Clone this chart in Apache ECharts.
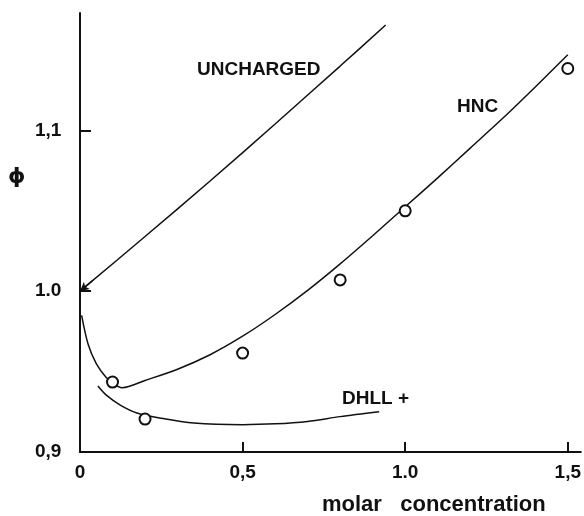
<!DOCTYPE html>
<html lang="en">
<head>
    <meta charset="UTF-8">
    <title>phi vs molar concentration</title>
    <script src="https://cdn.jsdelivr.net/npm/echarts@6/dist/echarts.min.js"></script>
    <style>
        body { margin: 0; background: #fff; }
        #main { width: 584px; height: 516px; }
    </style>
</head>
<body>
<div id="main"></div>
<script type="text/javascript">
    // data
    var unchargedX = [0, 0.2, 0.4, 0.6, 0.8, 0.94];
    var unchargedY = [1.000, 1.034, 1.0685, 1.104, 1.140, 1.1655];

    var hncX = [0.005, 0.025, 0.05, 0.08, 0.105, 0.13, 0.2, 0.3, 0.4, 0.5, 0.6, 0.7, 0.8, 0.9, 1.0, 1.1, 1.2, 1.3, 1.4, 1.5];
    var hncY = [0.985, 0.967, 0.955, 0.9465, 0.942, 0.940, 0.9445, 0.9515, 0.9605, 0.972, 0.9855, 1.0005, 1.017, 1.0345, 1.0525, 1.0705, 1.089, 1.1075, 1.127, 1.147];

    var dhllX = [0.055, 0.08, 0.125, 0.175, 0.25, 0.35, 0.5, 0.6, 0.7, 0.8, 0.92];
    var dhllY = [0.941, 0.9355, 0.929, 0.9243, 0.921, 0.918, 0.917, 0.9175, 0.919, 0.922, 0.925];

    var pointX = [0.1, 0.2, 0.5, 0.8, 1.0, 1.5];
    var pointY = [0.9435, 0.9205, 0.9615, 1.007, 1.050, 1.1385];

    var xTicks = [0, 0.5, 1.0, 1.5];
    var xTickLabels = ['0', '0,5', '1.0', '1,5'];
    var yTicks = [0.9, 1.0, 1.1];
    var yTickLabels = ['0,9', '1.0', '1,1'];

    function pairs(xs, ys) {
        var out = [];
        for (var i = 0; i < xs.length; i++) out.push([xs[i], ys[i]]);
        return out;
    }
    function tickName(ticks, names) {
        return function (v) {
            for (var i = 0; i < ticks.length; i++) {
                if (Math.abs(ticks[i] - v) < 1e-6) return names[i];
            }
            return '';
        };
    }

    var ink = '#111';
    var font = 'Liberation Sans';
    var lineStyle = {color: ink, width: 1.5};

    var myChart = echarts.init(document.getElementById('main'));
    var option = {
        backgroundColor: '#fff',
        animation: false,
        // curve labels and axis names as free text
        title: [
            {text: 'UNCHARGED', left: 197, top: 60, padding: 0,
                textStyle: {fontFamily: font, fontSize: 19, fontWeight: 'bold', color: ink}},
            {text: 'HNC', left: 457, top: 97, padding: 0,
                textStyle: {fontFamily: font, fontSize: 19, fontWeight: 'bold', color: ink}},
            {text: 'DHLL +', left: 342, top: 389, padding: 0,
                textStyle: {fontFamily: font, fontSize: 19, fontWeight: 'bold', color: ink}},
            {text: 'ϕ', left: 8, top: 166, padding: 0,
                textStyle: {fontFamily: 'DejaVu Sans', fontSize: 22, fontWeight: 'bold', color: ink}},
            {text: 'molar   concentration', left: 322, top: 494, padding: 0,
                textStyle: {fontFamily: font, fontSize: 22, fontWeight: 'bold', color: ink}}
        ],
        grid: {left: 80, right: 2, top: 13, bottom: 64},
        xAxis: {
            type: 'value',
            min: 0,
            max: 1.54,
            splitLine: {show: false},
            axisLine: {lineStyle: {color: ink, width: 2}},
            axisTick: {inside: true, length: 10, lineStyle: {color: ink, width: 2},
                customValues: [0.5, 1.0, 1.5]},
            axisLabel: {customValues: xTicks, formatter: tickName(xTicks, xTickLabels),
                margin: 11, color: ink, fontFamily: font, fontSize: 19, fontWeight: 'bold'}
        },
        yAxis: {
            type: 'value',
            min: 0.9,
            max: 1.173,
            splitLine: {show: false},
            axisLine: {lineStyle: {color: ink, width: 2}},
            axisTick: {inside: true, length: 11, lineStyle: {color: ink, width: 2},
                customValues: [1.0, 1.1]},
            axisLabel: {customValues: yTicks, formatter: tickName(yTicks, yTickLabels),
                align: 'left', margin: 45, color: ink, fontFamily: font, fontSize: 19, fontWeight: 'bold'}
        },
        series: [
            {
                name: 'UNCHARGED',
                type: 'line',
                data: pairs(unchargedX, unchargedY),
                showSymbol: false,
                smooth: 0.3,
                lineStyle: lineStyle,
                // arrow head where the line meets the axis
                markLine: {
                    silent: true,
                    symbol: ['none', 'arrow'],
                    symbolSize: [7, 9],
                    label: {show: false},
                    lineStyle: {color: ink, width: 1.5, type: 'solid'},
                    data: [[{coord: [unchargedX[1] / 5, 1 + (unchargedY[1] - 1) / 5]}, {coord: [unchargedX[0], unchargedY[0]]}]]
                }
            },
            {
                name: 'HNC',
                type: 'line',
                data: pairs(hncX, hncY),
                showSymbol: false,
                smooth: 0.3,
                lineStyle: lineStyle
            },
            {
                name: 'DHLL +',
                type: 'line',
                data: pairs(dhllX, dhllY),
                showSymbol: false,
                smooth: 0.3,
                lineStyle: lineStyle
            },
            {
                name: 'points',
                type: 'scatter',
                data: pairs(pointX, pointY),
                symbol: 'circle',
                symbolSize: 11,
                z: 5,
                itemStyle: {color: '#fff', borderColor: ink, borderWidth: 2, opacity: 1}
            }
        ]
    };
    myChart.setOption(option);
</script>
</body>
</html>
